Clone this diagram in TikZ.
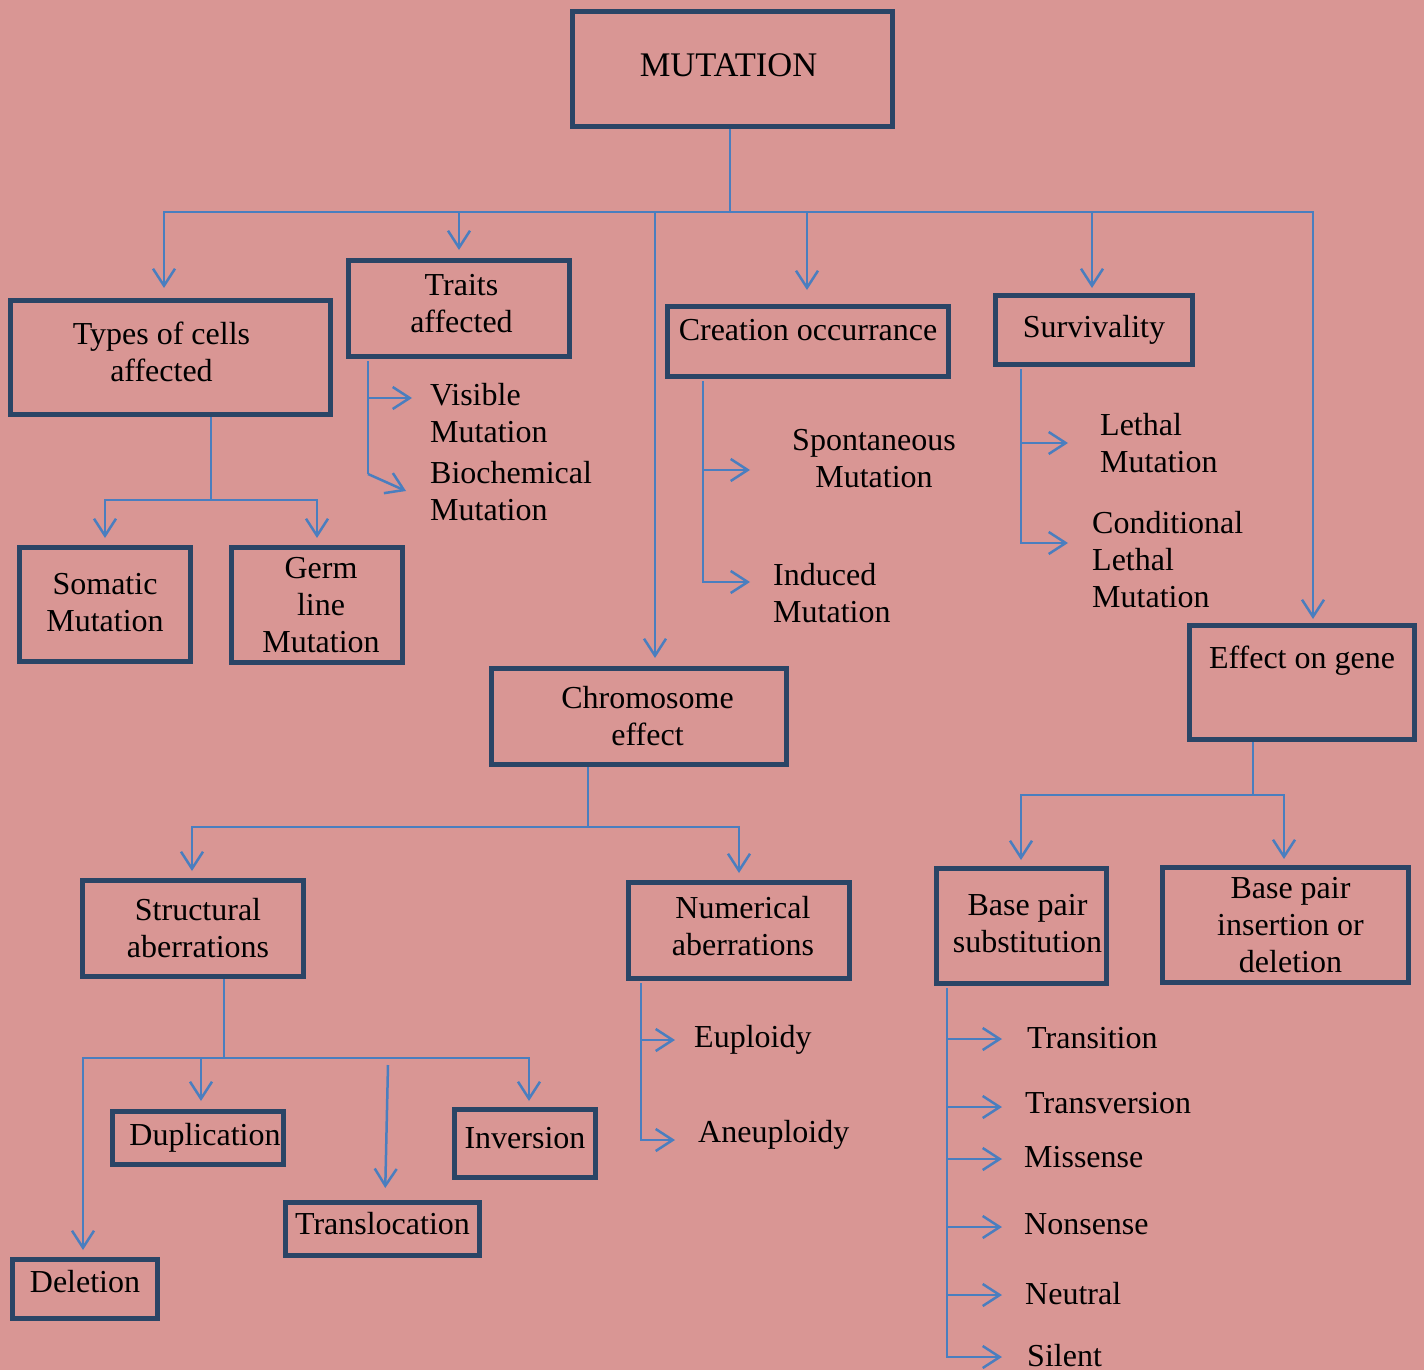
\documentclass[tikz,border=0pt]{standalone}
\usepackage{fontspec}
\setmainfont{Liberation Serif}
\usetikzlibrary{calc,arrows.meta}

\definecolor{bgpink}{HTML}{D99694}
\definecolor{boxnavy}{HTML}{2A4566}
\definecolor{linkblue}{HTML}{4A7EBF}

\tikzset{
  every node/.style={font=\fontsize{32}{37}\selectfont},
  box/.style={draw=boxnavy,line width=5pt,rectangle,align=center,inner sep=0pt},
  link/.style={draw=linkblue,line width=2.5pt},
  arr/.style={link,-{Straight Barb[length=17pt,width=22pt]}},
  lbl/.style={anchor=west,align=left,inner sep=0pt},
}

\begin{document}
\begin{tikzpicture}[x=1pt,y=-1pt]
\fill[bgpink] (0,0) rectangle (1424,1370);
\useasboundingbox (0,0) rectangle (1424,1370);

% boxes
\node[box,minimum width=320pt,minimum height=115pt,text depth=8pt,font=\fontsize{34.5}{37}\selectfont] (mut) at (732.5,69) {MUTATION\hspace*{8pt}};
\node[box,minimum width=320pt,minimum height=114pt,text depth=12pt] (types) at (170.5,357.5) {Types of cells\hspace*{18pt}\\affected\hspace*{18pt}};
\node[box,minimum width=221pt,minimum height=96pt,text depth=10pt] (traits) at (459,308.5) {\hspace*{5pt}Traits\\\hspace*{5pt}affected};
\node[box,minimum width=281pt,minimum height=70pt,text depth=24pt] (creation) at (808,341.5) {Creation occurrance};
\node[box,minimum width=197pt,minimum height=69pt] (surv) at (1094,330) {Survivality};
\node[box,minimum width=171pt,minimum height=114pt,text depth=5pt] (somatic) at (105,604.5) {Somatic\\Mutation};
\node[box,minimum width=171pt,minimum height=115pt] (germ) at (317,605) {\hspace*{8pt}Germ\\\hspace*{8pt}line\\\hspace*{8pt}Mutation};
\node[box,minimum width=295pt,minimum height=96pt] (chromo) at (639,716.5) {\hspace*{17pt}Chromosome\\\hspace*{17pt}effect};
\node[box,minimum width=225pt,minimum height=114pt,text depth=50pt] (effect) at (1302,682.5) {Effect on gene};
\node[box,minimum width=221pt,minimum height=96pt] (struct) at (193,928.5) {\hspace*{10pt}Structural\\\hspace*{10pt}aberrations};
\node[box,minimum width=221pt,minimum height=96pt,text depth=10pt] (numer) at (739,930.5) {\hspace*{8pt}Numerical\\\hspace*{8pt}aberrations};
\node[box,minimum width=170pt,minimum height=115pt,text depth=6pt] (bpsub) at (1021.5,926) {\hspace*{12pt}Base pair\\\hspace*{12pt}substitution};
\node[box,minimum width=246pt,minimum height=115pt] (bpins) at (1285.5,925) {\hspace*{10pt}Base pair\\\hspace*{10pt}insertion or\\\hspace*{10pt}deletion};
\node[box,minimum width=171pt,minimum height=53pt] (dupl) at (198,1138) {\hspace{14pt}Duplication};
\node[box,minimum width=141pt,minimum height=68pt,text depth=12pt] (inver) at (525,1143.5) {Inversion};
\node[box,minimum width=194pt,minimum height=53pt,text depth=12pt] (transl) at (382.5,1229) {Translocation};
\node[box,minimum width=145pt,minimum height=59pt,text depth=16pt] (delet) at (85,1289) {Deletion};

% free labels
\node[lbl] (visible) at (430,413.5) {Visible\\Mutation};
\node[lbl] (biochem) at (430,491.5) {Biochemical\\Mutation};
\node[align=center,inner sep=0pt] (spont) at (874,459) {Spontaneous\\Mutation};
\node[lbl] (induced) at (773,593.5) {Induced\\Mutation};
\node[lbl] (lethal) at (1100,443.5) {Lethal\\Mutation};
\node[lbl] (condl) at (1092,559.5) {Conditional\\Lethal\\Mutation};
\node[lbl] (euplo) at (694,1040) {Euploidy};
\node[lbl] (aneuplo) at (698,1135) {Aneuploidy};
\node[lbl] (transi) at (1027,1038) {Transition};
\node[lbl] (transv) at (1025,1103) {Transversion};
\node[lbl] (missen) at (1024,1157) {Missense};
\node[lbl] (nonsen) at (1024,1224) {Nonsense};
\node[lbl] (neutr) at (1025,1294) {Neutral};
\node[lbl] (silen) at (1027,1356) {Silent};

% main branches
\draw[link] ([xshift=-2.5pt]mut.south) -- ++(0,83) coordinate (hub);
\draw[arr,shorten >=10pt] (hub) -| ([xshift=-6.5pt]types.north);
\draw[arr,shorten >=8pt] (hub) -| (traits.north);
\draw[arr,shorten >=8pt] (hub) -| ([xshift=16pt]chromo.north);
\draw[arr,shorten >=14pt] (hub) -| ([xshift=-1pt]creation.north);
\draw[arr,shorten >=5pt] (hub) -| ([xshift=-2pt]surv.north);
\draw[arr,shorten >=4pt] (hub) -| ([xshift=11pt]effect.north);

% types of cells
\draw[link] ([xshift=40.5pt]types.south) -- ++(0,83) coordinate (tj);
\draw[arr,shorten >=7pt] (tj) -| (somatic.north);
\draw[arr,shorten >=7pt] (tj) -| (germ.north);

% traits
\coordinate (tr) at (368,361);
\draw[link] (tr) -- (368,474);
\draw[arr] (tr |- 0,398) -- ++(44,0);
\draw[arr] (368,474) -- ++(38,17);

% creation
\coordinate (cr) at (703,381);
\draw[arr] (cr) |- ++(47,201);
\draw[arr] (cr |- 0,470) -- ++(47,0);

% survivality
\coordinate (sv) at (1021,369);
\draw[arr] (sv) |- ++(47,174);
\draw[arr] (sv |- 0,443) -- ++(47,0);

% effect on gene
\draw[link] ([xshift=-49pt]effect.south) -- ++(0,53) coordinate (ej);
\draw[arr,shorten >=6pt] (ej) -| ([xshift=-0.5pt]bpsub.north);
\draw[arr,shorten >=6pt] (ej) -| ([xshift=-1.5pt]bpins.north);

% chromosome
\draw[link] ([xshift=-51pt]chromo.south) -- ++(0,60) coordinate (cj);
\draw[arr,shorten >=7pt] (cj) -| ([xshift=-1pt]struct.north);
\draw[arr,shorten >=7pt] (cj) -| (numer.north);

% structural
\draw[link] ([xshift=31pt]struct.south) -- ++(0,79) coordinate (sj);
\draw[arr,shorten >=7pt] (sj) -| ([xshift=-2pt]delet.north);
\draw[arr,shorten >=8pt] (sj) -| ([xshift=3pt]dupl.north);
\draw[arr,shorten >=6pt] (sj) -| ([xshift=4pt]inver.north);
\draw[arr,shorten >=12pt] (388,1065) -- ([xshift=2.5pt]transl.north);

% numerical
\coordinate (nm) at (641,983);
\draw[arr] (nm) |- ++(34,157);
\draw[arr] (nm |- 0,1040) -- ++(34,0);

% base pair substitution
\coordinate (bs) at (947,988);
\draw[arr] (bs) |- ++(55,369);
\foreach \yy in {1039,1107,1159,1227,1295}
  \draw[arr] (bs |- 0,\yy) -- ++(55,0);

\end{tikzpicture}
\end{document}
